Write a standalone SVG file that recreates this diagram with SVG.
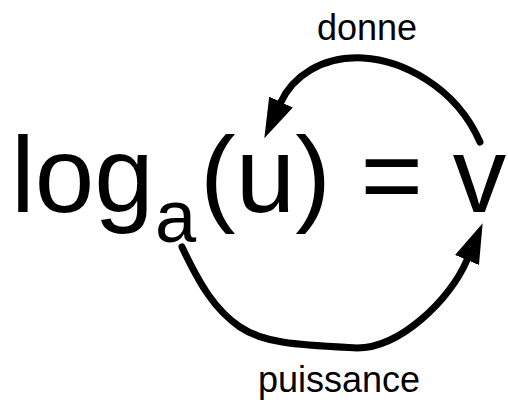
<svg xmlns="http://www.w3.org/2000/svg" width="508" height="403" viewBox="0 0 508 403">
<style>
text{font-family:"Liberation Sans",Arial,sans-serif;fill:#000}
.big{font-size:107px}
.sub{font-size:74px}
.lbl{font-size:36px}
.conn{fill:none;stroke:#000;stroke-width:7;stroke-linecap:round}
</style>
<defs>
<marker id="ah" markerUnits="userSpaceOnUse" markerWidth="40" markerHeight="26" viewBox="0 0 40 26" refX="0" refY="13" orient="auto">
<path d="M0,0 L40,13 L0,26 z" fill="#000"/>
</marker>
</defs>
<rect width="508" height="403" fill="#fff"/>
<g id="formula">
<text class="big" x="11" y="212">log</text>
<text class="sub" x="155" y="242">a</text>
<text class="big" x="200" y="212">(u) = v</text>
</g>
<g id="label-donne"><text class="lbl" x="317" y="40">donne</text></g>
<g id="label-puissance"><text class="lbl" x="258" y="392">puissance</text></g>
<g id="connectors">
<path class="conn" d="M480,142 C455,85 400,60 363,58 C320,56 292,78 281,102" marker-end="url(#ah)"/>
<path class="conn" d="M182,247 C200,285 215,310 240,327 C265,344 300,345 357,348 C400,348 450,300 467,260" marker-end="url(#ah)"/>
</g>
</svg>
